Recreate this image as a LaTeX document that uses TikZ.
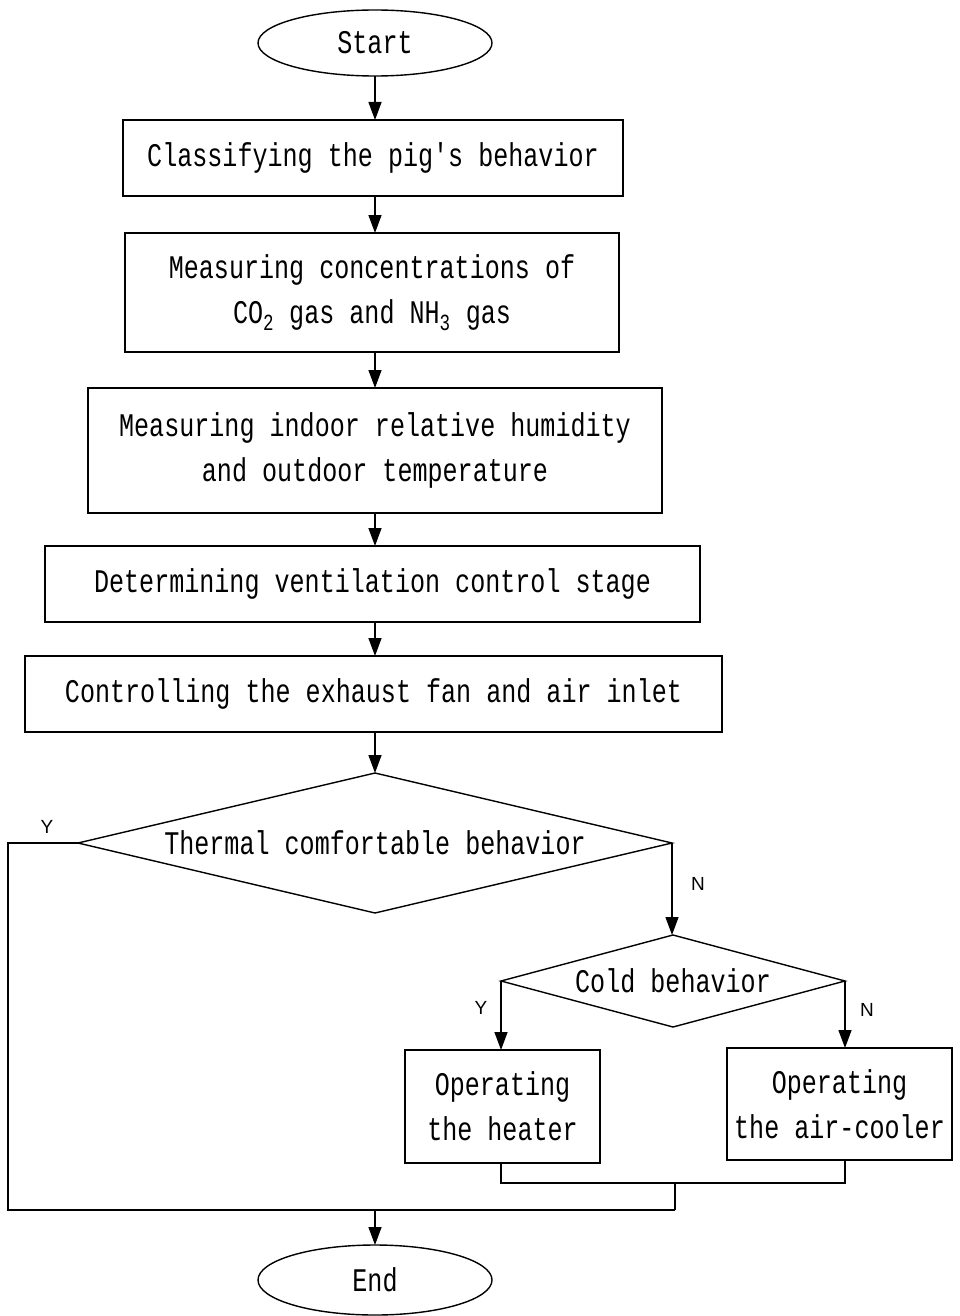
\documentclass[tikz,border=0pt]{standalone}
\usepackage{fontspec}
\usetikzlibrary{shapes.geometric,arrows.meta}
\newfontfamily\monof[FakeStretch=0.76]{Liberation Mono}
\newfontfamily\labf{Liberation Sans}
\begin{document}
\begin{tikzpicture}[x=1pt,y=-1pt,
  every node/.style={inner sep=0pt,outer sep=0pt},
  txt/.style={font=\monof\fontsize{33}{45}\selectfont,align=center},
  term/.style={txt,draw,ellipse,line width=1.4pt,minimum width=234pt,minimum height=66pt},
  proc/.style={txt,draw,rectangle,line width=1.4pt},
  dec/.style={txt,draw,diamond,line width=1.4pt},
  lab/.style={font=\labf\fontsize{19}{19}\selectfont},
  conn/.style={line width=1.4pt},
  arr/.style={conn,-{Triangle[length=18pt,width=13pt]}}]
\useasboundingbox (0,0) rectangle (959,1316);

\node[term] (start) at (375,43) {Start};
\node[proc,minimum width=500pt,minimum height=76pt] (b1) at (373,158) {Classifying the pig's behavior};
\node[proc,minimum width=494pt,minimum height=119pt] (b2) at (372,292.5) {Measuring concentrations of\\CO\textsubscript{2} gas and NH\textsubscript{3} gas};
\node[proc,minimum width=574pt,minimum height=125pt] (b3) at (375,450.5) {Measuring indoor relative humidity\\and outdoor temperature};
\node[proc,minimum width=655pt,minimum height=76pt] (b4) at (372.5,584) {Determining ventilation control stage};
\node[proc,minimum width=697pt,minimum height=76pt] (b5) at (373.5,694) {Controlling the exhaust fan and air inlet};
\node[dec,aspect=4.24,minimum width=594pt,minimum height=140pt] (d1) at (375,843) {Thermal comfortable behavior};
\node[dec,aspect=3.74,minimum width=344pt,minimum height=92pt] (d2) at (673,981) {Cold behavior};
\node[proc,minimum width=195pt,minimum height=113pt] (heat) at (502.5,1106.5) {Operating\\the heater};
\node[proc,minimum width=225pt,minimum height=112pt] (cool) at (839.5,1104) {Operating\\the air-cooler};
\node[term,minimum height=70pt] (end) at (375,1280) {End};

\node[lab] (y1) at (47,827) {Y};
\node[lab] (n1) at (698,884) {N};
\node[lab] (y2) at (481,1008) {Y};
\node[lab] (n2) at (867,1010) {N};

\coordinate (lb) at (8,1210);
\coordinate (rb) at (675,1210);
\coordinate (jy) at (675,1183);

\draw[arr] (start.south) -- (start.south |- b1.north);
\draw[arr] (start |- b1.south) -- (start |- b2.north);
\draw[arr] (start |- b2.south) -- (start |- b3.north);
\draw[arr] (start |- b3.south) -- (start |- b4.north);
\draw[arr] (start |- b4.south) -- (start |- b5.north);
\draw[arr] (start |- b5.south) -- (d1.north);
\draw[arr] (d1.east) -- (d1.east |- d2.north);
\draw[arr] (d2.west) -- (d2.west |- heat.north);
\draw[arr] (d2.east) -- (d2.east |- cool.north);
\draw[conn] (d1.west) -- (d1.west -| lb) -- (lb) -- (rb);
\draw[conn] (heat.south -| d2.west) -- (d2.west |- jy) -- (d2.east |- jy) -- (d2.east |- cool.south);
\draw[conn] (jy) -- (rb);
\draw[arr] (start |- lb) -- (end.north);
\end{tikzpicture}
\end{document}
